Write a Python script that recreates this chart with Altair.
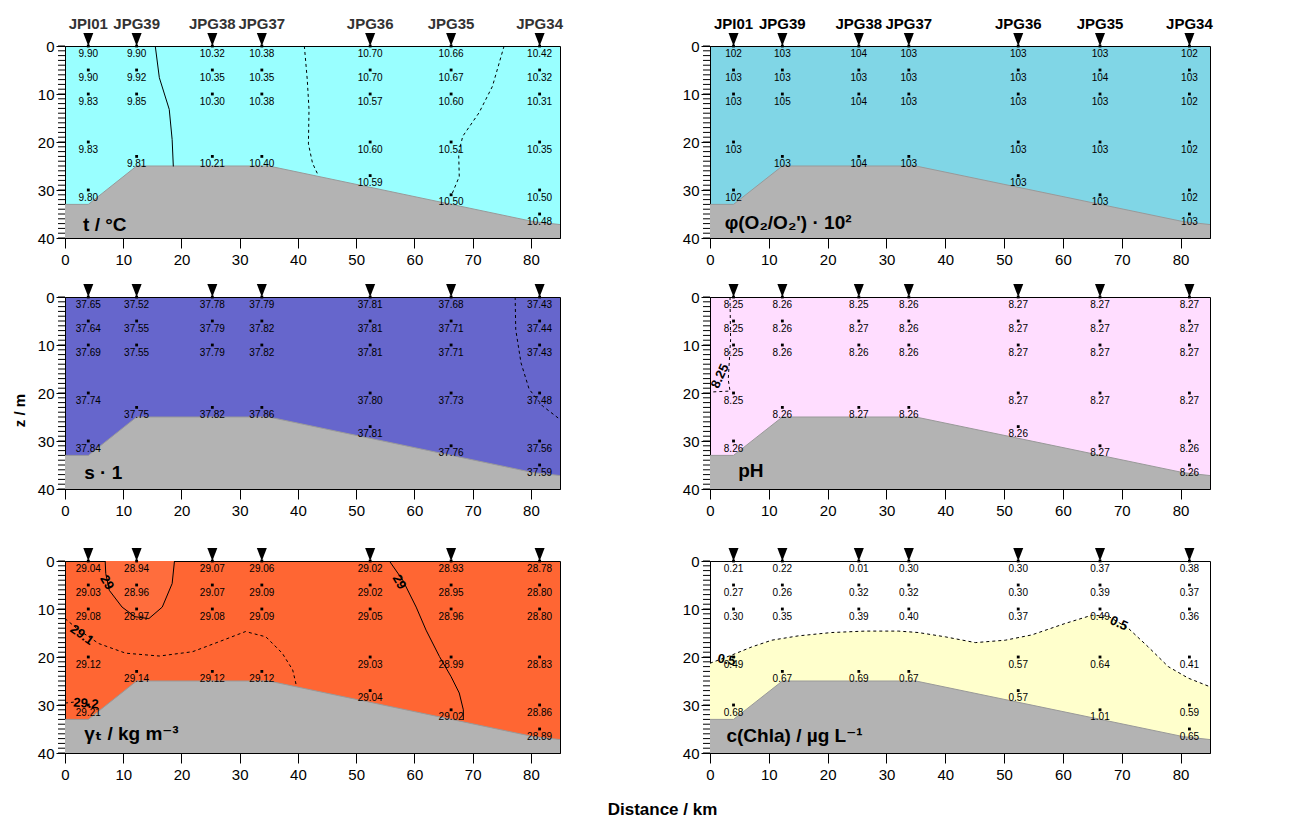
import altair as alt
import pandas as pd

FONT = "Liberation Sans, Arial, DejaVu Sans, sans-serif"

# ---------------- data ----------------
stations = ["JPI01", "JPG39", "JPG38", "JPG37", "JPG36", "JPG35", "JPG34"]
station_km = [4.0, 12.3, 25.3, 33.8, 52.4, 66.3, 81.5]
sample_depths = [
    [0, 5, 10, 20, 30],
    [0, 5, 10, 23],
    [0, 5, 10, 23],
    [0, 5, 10, 23],
    [0, 5, 10, 20, 27],
    [0, 5, 10, 20, 31],
    [0, 5, 10, 20, 30, 35],
]

t_vals = [
    [9.90, 9.90, 9.83, 9.83, 9.80],
    [9.90, 9.92, 9.85, 9.81],
    [10.32, 10.35, 10.30, 10.21],
    [10.38, 10.35, 10.38, 10.40],
    [10.70, 10.70, 10.57, 10.60, 10.59],
    [10.66, 10.67, 10.60, 10.51, 10.50],
    [10.42, 10.32, 10.31, 10.35, 10.50, 10.48],
]
o2_vals = [
    [102, 103, 103, 103, 102],
    [103, 103, 105, 103],
    [104, 103, 104, 104],
    [103, 103, 103, 103],
    [103, 103, 103, 103, 103],
    [103, 104, 103, 103, 103],
    [102, 103, 102, 102, 102, 103],
]
s_vals = [
    [37.65, 37.64, 37.69, 37.74, 37.84],
    [37.52, 37.55, 37.55, 37.75],
    [37.78, 37.79, 37.79, 37.82],
    [37.79, 37.82, 37.82, 37.86],
    [37.81, 37.81, 37.81, 37.80, 37.81],
    [37.68, 37.71, 37.71, 37.73, 37.76],
    [37.43, 37.44, 37.43, 37.48, 37.56, 37.59],
]
ph_vals = [
    [8.25, 8.25, 8.25, 8.25, 8.26],
    [8.26, 8.26, 8.26, 8.26],
    [8.25, 8.27, 8.26, 8.27],
    [8.26, 8.26, 8.26, 8.26],
    [8.27, 8.27, 8.27, 8.27, 8.26],
    [8.27, 8.27, 8.27, 8.27, 8.27],
    [8.27, 8.27, 8.27, 8.27, 8.26, 8.26],
]
gamma_vals = [
    [29.04, 29.03, 29.08, 29.12, 29.21],
    [28.94, 28.96, 28.97, 29.14],
    [29.07, 29.07, 29.08, 29.12],
    [29.06, 29.09, 29.09, 29.12],
    [29.02, 29.02, 29.05, 29.03, 29.04],
    [28.93, 28.95, 28.96, 28.99, 29.02],
    [28.78, 28.80, 28.80, 28.83, 28.86, 28.89],
]
chl_vals = [
    [0.21, 0.27, 0.30, 0.49, 0.68],
    [0.22, 0.26, 0.35, 0.67],
    [0.01, 0.32, 0.39, 0.69],
    [0.30, 0.32, 0.40, 0.67],
    [0.30, 0.30, 0.37, 0.57, 0.57],
    [0.37, 0.39, 0.49, 0.64, 1.01],
    [0.38, 0.37, 0.36, 0.41, 0.59, 0.65],
]

# depth axis ticks
major_ticks = [0, 10, 20, 30, 40]
minor_ticks = list(range(0, 41))
x_ticks = [0, 10, 20, 30, 40, 50, 60, 70, 80]

# bottom profile
bathy_km = [0, 4.0, 12.3, 35.0, 80.5, 85.0]
bathy_z = [33.0, 33.0, 25.0, 25.0, 36.6, 37.2]

# contour lines (km, depth)
t_c1_km = [15.5, 16.2, 17.9, 18.4, 18.6]
t_c1_z = [0, 6.6, 13.2, 19.5, 25.1]
t_c2_km = [41.1, 41.6, 41.9, 41.8, 42.5, 43.5]
t_c2_z = [0, 7.0, 13.2, 20.4, 24.4, 27.0]
t_c3_km = [75.4, 73.4, 71.1, 68.3, 67.6, 67.7, 66.4]
t_c3_z = [0, 8.4, 13.9, 18.8, 22.3, 27.2, 31.0]

s_c1_km = [77.3, 77.4, 78.3, 79.7, 82.0, 85.0]
s_c1_z = [0, 6.8, 13.7, 19.2, 22.7, 25.5]

ph_c1_km = [3.4, 3.5, 3.1, 3.4, 0.0]
ph_c1_z = [0, 8.9, 17.2, 19.6, 19.8]

g_loop_km = [6.9, 7.0, 7.6, 9.8, 12.0, 14.4, 16.7, 18.4, 18.8]
g_loop_z = [0, 2.6, 6.1, 9.6, 11.6, 12.0, 9.6, 4.7, 0]
g_c291_km = [0, 2.4, 5.8, 10.4, 16.2, 21.9, 26.5, 31.0, 34.5, 37.3, 39.1, 39.7]
g_c291_z = [12.0, 14.4, 17.2, 19.2, 19.8, 18.9, 16.8, 14.7, 15.8, 19.2, 22.7, 25.8]
g_c292_km = [0, 1.5]
g_c292_z = [29.6, 29.4]
g_c29r_km = [55.7, 58.0, 60.3, 62.0, 64.3, 66.3, 67.7, 68.4, 68.4]
g_c29r_z = [0, 4.0, 9.6, 14.4, 19.9, 24.1, 27.5, 31.0, 33.1]

chl_c_km = [0, 3.7, 7.1, 10.5, 15.0, 20.7, 26.4, 32.0, 35.4, 40.0, 45.1, 50.2,
            54.7, 60.4, 64.9, 67.7, 71.1, 74.5, 77.9, 81.3, 85.0]
chl_c_z = [21.3, 19.6, 17.9, 16.5, 15.6, 14.9, 14.6, 14.6, 14.9, 15.8, 17.0, 16.5,
           15.4, 13.0, 11.3, 11.5, 14.0, 17.9, 22.0, 24.4, 26.2]

# contour labels
ph_lab = (["8.25"], [1.7], [16.5], [295])
g_lab = (["29", "29.1", "29.2", "29"], [7.2, 2.9, 3.6, 57.4], [4.5, 15.4, 29.7, 4.4], [60, 35, 5, 60])
chl_lab = (["0.5", "0.5"], [2.8, 69.5], [20.6, 13.0], [10, 25])

# ---------------- helpers ----------------
XS = alt.Scale(domain=[0, 85], nice=False, zero=False)
YS = alt.Scale(domain=[0, 40], reverse=True, nice=False, zero=False)


def xaxis(with_title):
    kw = dict(values=x_ticks, ticks=True, tickSize=10, tickWidth=1, tickColor="#000000",
              tickOpacity=1, domain=True, domainColor="#000000", domainWidth=1,
              labelFontSize=15, labelColor="black", labelFont=FONT,
              labelPadding=4, grid=False, labelFlush=False)
    if with_title:
        kw.update(title="Distance / km", titleX=597, titleY=61, titleAlign="center",
                  titleBaseline="alphabetic", titleFontSize=17, titleFontWeight="bold",
                  titleFont=FONT, titleColor="black")
    else:
        kw.update(title=None)
    return alt.Axis(**kw)


def yaxis(with_title):
    kw = dict(values=major_ticks, ticks=True, tickSize=9, tickWidth=1, tickColor="#000000",
              tickOpacity=1, domain=True, domainColor="#000000", domainWidth=1,
              labelOverlap=False, labelFontSize=15, labelColor="black", labelFont=FONT,
              labelPadding=2, grid=False, labelFlush=False)
    if with_title:
        kw.update(title="z / m", titleFontSize=15, titleFontWeight="bold", titleFont=FONT,
                  titleColor="black", titleY=113, titleAlign="center", titlePadding=10)
    else:
        kw.update(title=None)
    return alt.Axis(**kw)


def sample_df(vals):
    rows = []
    for km, ds, vs in zip(station_km, sample_depths, vals):
        for d, v in zip(ds, vs):
            rows.append({"km": km, "z": d, "v": v})
    return pd.DataFrame(rows)


def line_df(km_list, z_list, cid):
    return pd.DataFrame({"km": km_list, "z": z_list, "i": list(range(len(km_list))), "cid": cid})


def panel(vals, fmt, bg, width, label, label_km, label_z, name_color=None,
          xt=False, yt=False, regions=(), solid=(), dashed=(), clabels=None):
    X = alt.X("km:Q", scale=XS, axis=xaxis(xt))
    Y = alt.Y("z:Q", scale=YS, axis=yaxis(yt))
    layers = []
    for kind, df, color in regions:
        if kind == "h":
            layers.append(alt.Chart(df).mark_area(orient="horizontal", color=color, opacity=1)
                          .encode(x=X, x2="km2:Q", y=Y, order="i:Q"))
        else:
            layers.append(alt.Chart(df).mark_area(orient="vertical", color=color, opacity=1)
                          .encode(x=X, y=Y, y2="z2:Q"))
    bdf = pd.DataFrame({"km": bathy_km, "z": bathy_z, "z2": [40] * len(bathy_km)})
    layers.append(alt.Chart(bdf).mark_area(color="#B3B3B3", opacity=1).encode(x=X, y=Y, y2="z2:Q"))
    layers.append(alt.Chart(bdf).mark_line(color="#999999", strokeWidth=1).encode(x=X, y=Y))
    if solid:
        layers.append(alt.Chart(pd.concat(solid)).mark_line(color="black", strokeWidth=1)
                      .encode(x=X, y=Y, detail="cid:N", order="i:Q"))
    if dashed:
        layers.append(alt.Chart(pd.concat(dashed)).mark_line(color="black", strokeWidth=1,
                                                             strokeDash=[3, 3])
                      .encode(x=X, y=Y, detail="cid:N", order="i:Q"))
    # minor depth ticks (outside the left edge)
    mdf = pd.DataFrame({"z": minor_ticks, "km": [0.0] * len(minor_ticks)})
    layers.append(alt.Chart(mdf).mark_tick(orient="horizontal", size=7, thickness=1,
                                           color="#000000", opacity=1, xOffset=-3.5)
                  .encode(x=X, y=Y))
    sdf = sample_df(vals)
    layers.append(alt.Chart(sdf).mark_square(size=8, color="black", opacity=1).encode(x=X, y=Y))
    layers.append(alt.Chart(sdf).mark_text(fontSize=10, font=FONT, baseline="alphabetic",
                                           dy=10.5, color="black")
                  .encode(x=X, y=Y, text=alt.Text("v:Q", format=fmt)))
    if clabels is not None:
        cdf = pd.DataFrame({"t": clabels[0], "km": clabels[1], "z": clabels[2], "a": clabels[3]})
        layers.append(alt.Chart(cdf).mark_text(fontSize=13, font=FONT, fontWeight="bold",
                                               color="black", baseline="middle", align="center")
                      .encode(x=X, y=Y, text="t:N", angle=alt.Angle("a:Q", scale=None)))
    stdf = pd.DataFrame({"km": station_km, "z": [0] * len(station_km), "name": stations})
    layers.append(alt.Chart(stdf).mark_point(shape="M-0.77,-2L0.77,-2L0,0Z", size=169,
                                             filled=True, color="black", opacity=1)
                  .encode(x=X, y=Y))
    if name_color:
        layers.append(alt.Chart(stdf).mark_text(fontSize=15, font=FONT, fontWeight="bold",
                                                baseline="alphabetic", dy=-17, color=name_color)
                      .encode(x=X, y=Y, text="name:N"))
    ldf = pd.DataFrame({"km": [label_km], "z": [label_z], "t": [label]})
    layers.append(alt.Chart(ldf).mark_text(fontSize=19, font=FONT, fontWeight="bold",
                                           align="left", baseline="alphabetic", color="black")
                  .encode(x=X, y=Y, text="t:N"))
    return alt.layer(*layers).properties(
        width=width, height=192,
        view=alt.ViewBackground(fill=bg, stroke="black", strokeWidth=1))


def hreg(km_list, z_list, km2, color, left=False):
    if left:
        df = pd.DataFrame({"km": [0.0] * len(km_list), "km2": km_list, "z": z_list,
                           "i": list(range(len(km_list)))})
    else:
        df = pd.DataFrame({"km": km_list, "km2": [km2] * len(km_list), "z": z_list,
                           "i": list(range(len(km_list)))})
    return ("h", df, color)


def vreg(km_list, z_list, z2, color):
    df = pd.DataFrame({"km": km_list, "z": z_list, "z2": [z2] * len(km_list)})
    return ("v", df, color)


p_t = panel(t_vals, ".2f", "#99FFFF", 495, "t / °C", 3.1, 38.5, name_color="#333333",
            solid=[line_df(t_c1_km, t_c1_z, "a")],
            dashed=[line_df(t_c2_km, t_c2_z, "b"), line_df(t_c3_km, t_c3_z, "c")])
p_o2 = panel(o2_vals, "d", "#80D6E6", 500, "φ(O₂/O₂') · 10²", 2.5, 38.2, name_color="#000000")
p_s = panel(s_vals, ".2f", "#6666CC", 495, "s · 1", 3.3, 38.0, yt=True,
            regions=[hreg(s_c1_km, s_c1_z, 85.0, "#6666FF")],
            dashed=[line_df(s_c1_km, s_c1_z, "a")])
p_ph = panel(ph_vals, ".2f", "#FFDDFF", 500, "pH", 4.8, 37.6,
             regions=[hreg(ph_c1_km, ph_c1_z, 0.0, "#FFEEFF", left=True)],
             dashed=[line_df(ph_c1_km, ph_c1_z, "a")], clabels=ph_lab)
p_g = panel(gamma_vals, ".2f", "#FF6633", 495, "γₜ / kg m⁻³", 3.3, 37.3, xt=True,
            regions=[hreg(g_c29r_km, g_c29r_z, 85.0, "#FF6D3D"),
                     vreg(g_loop_km, g_loop_z, 0.0, "#FF6D3D")],
            solid=[line_df(g_loop_km, g_loop_z, "a"), line_df(g_c29r_km, g_c29r_z, "b")],
            dashed=[line_df(g_c291_km, g_c291_z, "c"), line_df(g_c292_km, g_c292_z, "d")],
            clabels=g_lab)
p_c = panel(chl_vals, ".2f", "#FFFFFF", 500, "c(Chla) / µg  L⁻¹", 2.8, 37.7,
            regions=[vreg(chl_c_km, chl_c_z, 40.0, "#FFFFCC")],
            dashed=[line_df(chl_c_km, chl_c_z, "a")], clabels=chl_lab)

r1 = alt.hconcat(p_t, p_o2, spacing=150, bounds="flush")
r2 = alt.hconcat(p_s, p_ph, spacing=150, bounds="flush")
r3 = alt.hconcat(p_g, p_c, spacing=150, bounds="flush")

chart = alt.vconcat(alt.vconcat(r1, r2, spacing=15), r3, spacing=28).properties(
    padding={"left": 3, "top": 8, "right": 0, "bottom": 0},
    background="white",
).configure(font=FONT).configure_axis(ticks=True, tickColor="#000000", tickOpacity=1)

chart.save("out.html", embed_options={"renderer": "svg", "actions": False})
